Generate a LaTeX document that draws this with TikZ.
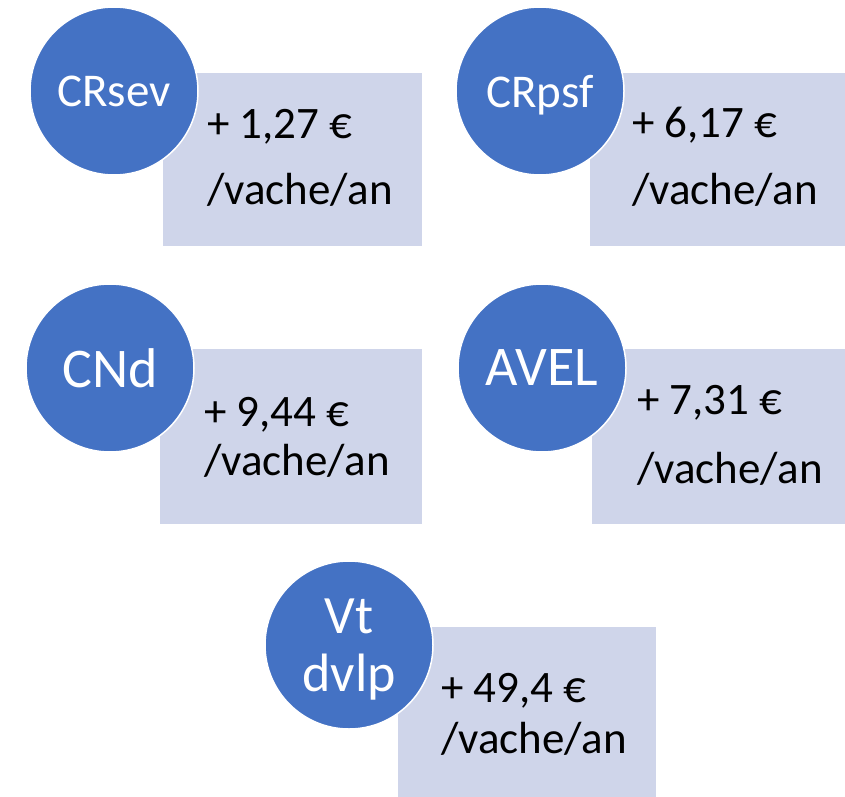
\documentclass[tikz,border=0pt]{standalone}
\usepackage{fontspec}
\setmainfont{Carlito}
\definecolor{pastille}{HTML}{4472C4}
\definecolor{fond}{HTML}{CFD5EA}
\begin{document}
\begin{tikzpicture}[x=1bp,y=-1bp,
  boite/.style={fill=fond,anchor=north west,inner sep=0pt},
  rond/.style={circle,fill=pastille,draw=white,line width=1.5bp,text=white,inner sep=0pt,minimum size=168bp,align=center,text depth=0pt},
  montant/.style={anchor=base west,align=left,inner sep=0pt,font=\fontsize{45bp}{#1bp}\selectfont}]
\useasboundingbox (0,0) rectangle (845,797);
% les cadres
\node[boite,minimum width=259bp,minimum height=173bp] (crsevbox) at (163,73) {};
\node[boite,minimum width=255bp,minimum height=173bp] (crpsfbox) at (590,73) {};
\node[boite,minimum width=262bp,minimum height=175bp] (cndbox) at (160,349) {};
\node[boite,minimum width=253bp,minimum height=175bp] (avelbox) at (592,349) {};
\node[boite,minimum width=258bp,minimum height=170bp] (vtbox) at (398,627) {};
% les pastilles
\node[rond,font=\fontsize{47bp}{47bp}\selectfont] (crsev) at (114,91) {CRsev};
\node[rond,font=\fontsize{47bp}{47bp}\selectfont] (crpsf) at (540,91) {CRpsf};
\node[rond,font=\fontsize{56bp}{56bp}\selectfont] (cnd) at (110,368) {CNd};
\node[rond,font=\fontsize{56bp}{56bp}\selectfont] (avel) at (542,368) {AVEL};
\node[rond,font=\fontsize{54bp}{58bp}\selectfont] (vt) at (349,645) {Vt\\dvlp};
% les montants (base = derniere ligne)
\node[montant=66] (crsevval) at (207,204) {+ 1,27 €\\/vache/an};
\node[montant=67] (crpsfval) at (632,204) {+ 6,17 €\\/vache/an};
\node[montant=49] (cndval) at (204,475) {+ 9,44 €\\/vache/an};
\node[montant=69] (avelval) at (637,483) {+ 7,31 €\\/vache/an};
\node[montant=51] (vtval) at (441,753) {+ 49,4 €\\/vache/an};
\end{tikzpicture}
\end{document}
